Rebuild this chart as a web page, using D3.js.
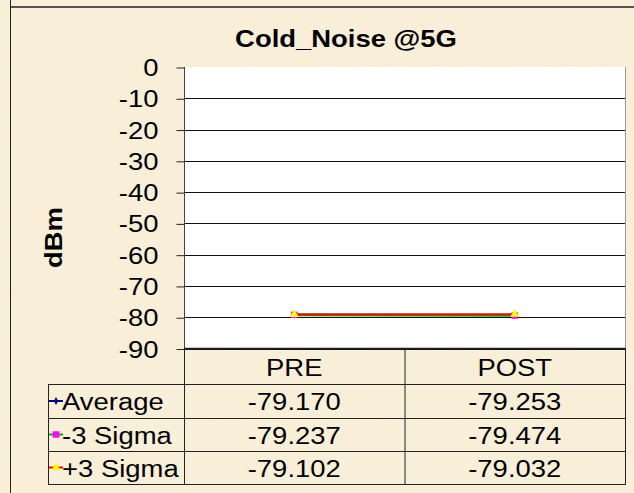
<!DOCTYPE html>
<html>
<head>
<meta charset="utf-8">
<script src="https://cdn.jsdelivr.net/npm/d3@7"></script>
<style>
  body { margin: 0; background: #f8edd5; }
  svg { display: block; font-family: "Liberation Sans", Arial, sans-serif; }
</style>
</head>
<body>
<div id="chart"></div>
<script>
// chart values
var categories = ["PRE", "POST"];
var seriesNames = ["Average", "-3 Sigma", "+3 Sigma"];
var average = [-79.170, -79.253];
var minus3Sigma = [-79.237, -79.474];
var plus3Sigma = [-79.102, -79.032];
var yTicks = [0, -10, -20, -30, -40, -50, -60, -70, -80, -90];

var svgWidth = 634;
var svgHeight = 493;

var plot = { left: 184, right: 625, top: 67, bottom: 348.5 };
var tableLeft = 48;
var rowLines = [348, 384, 418, 451, 484];
var fontSize = 24.5;
var stretch = "scale(1.12,1)";

var svg = d3.select("#chart")
  .append("svg")
  .attr("width", svgWidth)
  .attr("height", svgHeight);

// parchment background
var defs = svg.append("defs");
var filt = defs.append("filter").attr("id", "paper");
filt.append("feTurbulence")
  .attr("type", "fractalNoise")
  .attr("baseFrequency", 0.06)
  .attr("numOctaves", 3)
  .attr("seed", 4);
filt.append("feColorMatrix")
  .attr("values", "0 0 0 0 0.93  0 0 0 0 0.86  0 0 0 0 0.72  0 0 0 -1.2 0.8");

svg.append("rect")
  .attr("width", svgWidth).attr("height", svgHeight)
  .attr("fill", "#f9efd9");
svg.append("rect")
  .attr("width", svgWidth).attr("height", svgHeight)
  .attr("filter", "url(#paper)")
  .attr("opacity", 0.3);

// frame lines
svg.append("line")
  .attr("x1", 10).attr("x2", svgWidth).attr("y1", 7).attr("y2", 7)
  .attr("stroke", "#555").attr("stroke-width", 2);
svg.append("line")
  .attr("x1", 10.5).attr("x2", 10.5).attr("y1", 0).attr("y2", svgHeight)
  .attr("stroke", "#222").attr("stroke-width", 1);

var x = d3.scaleBand()
  .domain(categories)
  .range([plot.left, plot.right]);

var y = d3.scaleLinear()
  .domain([-90, 0])
  .range([plot.bottom, plot.top]);

// plot area
svg.append("rect")
  .attr("x", plot.left).attr("y", plot.top)
  .attr("width", plot.right - plot.left).attr("height", plot.bottom - plot.top)
  .attr("fill", "#fff");

// gridlines
svg.append("g")
  .selectAll("line")
  .data(yTicks.filter(d => d !== 0))
  .enter()
  .append("line")
  .attr("x1", plot.left).attr("x2", plot.right)
  .attr("y1", d => Math.round(y(d)) + 0.5).attr("y2", d => Math.round(y(d)) + 0.5)
  .attr("stroke", "#111").attr("stroke-width", 1);

// y axis
var leftAxis = d3.axisLeft(y)
  .tickValues(yTicks)
  .tickSize(8)
  .tickFormat(d3.format("d"));

var yAxis = svg.append("g")
  .attr("transform", `translate(${plot.left + 0.5}, 0)`)
  .call(leftAxis);
yAxis.select(".domain").attr("stroke", "#444").attr("d", `M0,${plot.top}V${plot.bottom}`);
yAxis.selectAll(".tick line").attr("stroke", "#222").attr("transform", "translate(0,0.5)");
yAxis.selectAll(".tick text")
  .attr("x", 0)
  .attr("dy", null)
  .attr("y", 8.5)
  .attr("transform", "translate(-26,0) " + stretch)
  .attr("font-size", fontSize)
  .attr("fill", "#000")
  .attr("font-family", "Liberation Sans, Arial, sans-serif")
  .text(d => String(d));

// right border of plot
svg.append("line")
  .attr("x1", plot.right + 0.5).attr("x2", plot.right + 0.5)
  .attr("y1", plot.top).attr("y2", plot.bottom)
  .attr("stroke", "#999");

// y label
svg.append("text")
  .attr("transform", "translate(62, 237.5) rotate(-90) " + stretch)
  .attr("text-anchor", "middle")
  .attr("font-size", fontSize)
  .attr("font-weight", "bold")
  .text("dBm");

// title
svg.append("text")
  .attr("transform", "translate(346, 47) " + stretch)
  .attr("text-anchor", "middle")
  .attr("font-size", fontSize)
  .attr("font-weight", "bold")
  .text("Cold_Noise @5G");

// series
var series = [
  { name: seriesNames[0], values: average, color: "#000080", marker: "diamond", mcolor: "#000080", width: 2 },
  { name: seriesNames[1], values: minus3Sigma, color: "#00b000", marker: "square", mcolor: "#ff00ff", width: 2.6 },
  { name: seriesNames[2], values: plus3Sigma, color: "#ff0000", marker: "triangle", mcolor: "#ffff00", width: 2 }
];

var line = d3.line()
  .x((d, i) => x(categories[i]) + x.bandwidth() / 2)
  .y(d => y(d));

function markerPath(type) {
  if (type === "square") return d3.symbol().type(d3.symbolSquare).size(42)();
  if (type === "triangle") return d3.symbol().type(d3.symbolTriangle).size(34)();
  return d3.symbol().type(d3.symbolDiamond).size(18)();
}

series.forEach(function(s) {
  svg.append("path")
    .datum(s.values)
    .attr("d", line)
    .attr("fill", "none")
    .attr("stroke", s.color)
    .attr("stroke-width", s.width);
});
series.forEach(function(s) {
  svg.append("g")
    .selectAll("path")
    .data(s.values)
    .enter()
    .append("path")
    .attr("d", markerPath(s.marker))
    .attr("transform", (d, i) => `translate(${x(categories[i]) + x.bandwidth() / 2}, ${y(d)})`)
    .attr("fill", s.mcolor);
});

// data table
var table = svg.append("g").attr("stroke", "#222").attr("stroke-width", 1);
[plot.left, x("POST"), plot.right].forEach(function(xx) {
  table.append("line")
    .attr("x1", xx + 0.5).attr("x2", xx + 0.5)
    .attr("y1", rowLines[0]).attr("y2", rowLines[rowLines.length - 1] + 0.5);
});
table.append("line")
  .attr("x1", plot.left).attr("x2", plot.right + 1)
  .attr("y1", rowLines[0] + 0.5).attr("y2", rowLines[0] + 0.5)
  .attr("stroke-width", 1.5);
rowLines.slice(1).forEach(function(yy) {
  table.append("line")
    .attr("x1", tableLeft).attr("x2", plot.right + 1)
    .attr("y1", yy + 0.5).attr("y2", yy + 0.5);
});
table.append("line")
  .attr("x1", tableLeft + 0.5).attr("x2", tableLeft + 0.5)
  .attr("y1", rowLines[1]).attr("y2", rowLines[rowLines.length - 1] + 0.5);

// header labels
svg.append("g")
  .selectAll("text")
  .data(categories)
  .enter()
  .append("text")
  .attr("transform", d => `translate(${x(d) + x.bandwidth() / 2}, 376) ${stretch}`)
  .attr("text-anchor", "middle")
  .attr("font-size", fontSize)
  .text(d => d);

// rows
var fmt = d3.format(".3f");
series.forEach(function(s, r) {
  var cy = (rowLines[r + 1] + rowLines[r + 2]) / 2;
  // legend key
  svg.append("line")
    .attr("x1", tableLeft + 1).attr("x2", tableLeft + 15)
    .attr("y1", cy).attr("y2", cy)
    .attr("stroke", s.color).attr("stroke-width", 2);
  svg.append("path")
    .attr("d", markerPath(s.marker))
    .attr("transform", `translate(${tableLeft + 8}, ${cy})`)
    .attr("fill", s.mcolor);
  svg.append("text")
    .attr("transform", `translate(${tableLeft + 14}, ${cy + 9}) ${stretch}`)
    .attr("font-size", fontSize)
    .text(s.name);
  s.values.forEach(function(v, i) {
    svg.append("text")
      .attr("transform", `translate(${x(categories[i]) + x.bandwidth() / 2}, ${cy + 9}) ${stretch}`)
      .attr("text-anchor", "middle")
      .attr("font-size", fontSize)
      .text(fmt(v).replace("\u2212", "-"));
  });
});
</script>
</body>
</html>
